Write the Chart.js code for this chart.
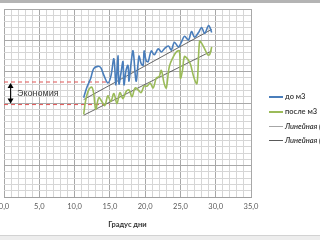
<!DOCTYPE html>
<html><head><meta charset="utf-8">
<script src="https://cdn.jsdelivr.net/npm/chart.js@4/dist/chart.umd.min.js"></script>
<style>
html,body{margin:0;padding:0;width:320px;height:240px;overflow:hidden;background:#fff;position:relative;font-family:Lato,"Liberation Sans",sans-serif;}
#wrap{position:absolute;left:-20px;top:0;width:340px;height:240px;}
#topbar{position:absolute;left:0;top:0;width:320px;height:3px;background:#b4b4b4;}
#botbar{position:absolute;left:0;top:235px;width:320px;height:5px;background:#ededed;border-top:1px solid #d2d2d2;}
.lg{position:absolute;left:269px;height:10px;font-size:7.5px;color:#333;white-space:nowrap;line-height:10px;}
.lg span.l{position:absolute;left:0;top:4px;width:14px;height:2px;}
.lg span.t{position:absolute;left:16px;top:0;}
</style></head>
<body>
<div id="wrap"><canvas id="c" width="340" height="240"></canvas></div>
<div id="topbar"></div>
<div id="botbar"></div>
<div class="lg" style="top:92px"><span class="l" style="background:#4a7ebb"></span><span class="t" style="font-weight:600">до м3</span></div>
<div class="lg" style="top:107px"><span class="l" style="background:#9bbb59"></span><span class="t" style="font-weight:600">после м3</span></div>
<div class="lg" style="top:122px"><span class="l" style="background:#a6a6a6;height:1px"></span><span class="t" style="font-style:italic;font-weight:600">Линейная (до м3)</span></div>
<div class="lg" style="top:136px"><span class="l" style="background:#595959;height:1px"></span><span class="t" style="font-style:italic;font-weight:600">Линейная (после м3)</span></div>
<script>
// Series: "до м3"
const beforeX = [11.29,11.71,12.29,12.71,13.29,13.71,14.14,14.71,15.14,15.57,15.86,16.14,16.29,16.57,16.86,17.0,17.29,17.57,17.71,18.0,18.29,18.71,19.0,19.14,19.43,19.71,19.86,20.14,20.43,20.86,21.29,21.86,22.29,22.71,23.29,23.71,24.14,24.71,25.14,25.57,26.14,26.57,27.0,27.57,28.0,28.43,29.0,29.43];
const beforeY = [31.7,34.8,37.9,41.0,41.7,41.3,38.9,36.4,38.5,44.1,35.8,45.1,36.1,39.5,43.2,35.8,40.4,42.0,37.0,42.6,46.6,37.0,42.6,45.1,42.6,42.0,46.6,43.5,43.2,46.6,45.4,47.3,46.3,47.3,48.2,46.9,49.4,47.9,49.4,51.3,50.1,52.8,51.0,52.5,54.1,52.2,54.7,52.5];
// Series: "после м3"
const afterX = [11.29,11.57,12.0,12.43,12.71,13.0,13.43,13.86,14.29,14.71,15.14,15.57,16.0,16.43,16.86,17.29,17.71,18.14,18.57,19.0,19.43,19.86,20.29,20.71,21.14,21.57,22.0,22.29,22.71,23.0,23.43,24.0,24.43,24.86,25.0,25.29,25.57,26.0,26.43,26.86,27.29,27.43,27.71,28.0,28.43,28.86,29.14,29.43];
const afterY = [26.4,30.8,34.2,35.1,33.0,28.0,31.7,30.5,29.2,32.3,30.5,33.0,29.8,33.3,31.4,33.6,34.2,32.0,34.8,34.2,33.3,35.4,35.4,36.4,34.8,37.9,38.5,40.4,36.1,34.8,41.7,44.8,46.3,46.6,37.9,40.4,44.8,44.1,42.3,38.5,36.1,37.9,49.7,49.1,47.3,45.4,45.4,47.9];
// Linear trend endpoints
const trendBeforeX = [11.29, 29.43];
const trendBeforeY = [31.1, 53.5];
const trendAfterX = [11.29, 29.43];
const trendAfterY = [26.1, 46.6];
// "Экономия" marker levels
const savingX = [0, 15.0];
const savingUpper = [36.7, 36.7];
const savingLower = [29.5, 29.5];
const savingArrowX = 0.86;
const savingLabel = "Экономия";
// Axis
const xTickLabels = ["0,0","5,0","10,0","15,0","20,0","25,0","30,0","35,0"];
const xTitle = "Градус дни";

const pts = (xs, ys) => xs.map((x, i) => ({x, y: ys[i]}));

const arrowPlugin = {
  id: 'saving',
  afterDatasetsDraw(chart) {
    const ctx = chart.ctx, xs = chart.scales.x, ys = chart.scales.y;
    const px = xs.getPixelForValue(savingArrowX);
    const y1 = ys.getPixelForValue(savingUpper[0]) + 1;
    const y2 = ys.getPixelForValue(savingLower[0]) - 1;
    ctx.save();
    ctx.strokeStyle = '#000'; ctx.fillStyle = '#000'; ctx.lineWidth = 1;
    ctx.beginPath(); ctx.moveTo(px + 0.5, y1 + 3); ctx.lineTo(px + 0.5, y2 - 3); ctx.stroke();
    ctx.beginPath(); ctx.moveTo(px + 0.5, y1); ctx.lineTo(px - 2.5, y1 + 5); ctx.lineTo(px + 3.5, y1 + 5); ctx.closePath(); ctx.fill();
    ctx.beginPath(); ctx.moveTo(px + 0.5, y2); ctx.lineTo(px - 2.5, y2 - 5); ctx.lineTo(px + 3.5, y2 - 5); ctx.closePath(); ctx.fill();
    ctx.fillStyle = '#404040';
    ctx.font = '9px "Liberation Sans", Arial, sans-serif';
    ctx.textBaseline = 'middle';
    ctx.fillText(savingLabel, px + 7, (y1 + y2) / 2);
    ctx.restore();
  }
};

new Chart(document.getElementById('c'), {
  type: 'scatter',
  data: {
    datasets: [
      {label: 'до м3', data: pts(beforeX, beforeY), showLine: true, borderColor: '#4a7ebb', borderWidth: 1.6, pointRadius: 0, tension: 0.35},
      {label: 'после м3', data: pts(afterX, afterY), showLine: true, borderColor: '#9bbb59', borderWidth: 1.6, pointRadius: 0, tension: 0.35},
      {label: 'Линейная (до м3)', data: pts(trendBeforeX, trendBeforeY), showLine: true, borderColor: '#404040', borderWidth: 0.8, pointRadius: 0},
      {label: 'Линейная (после м3)', data: pts(trendAfterX, trendAfterY), showLine: true, borderColor: '#404040', borderWidth: 0.8, pointRadius: 0},
      {label: 'upper', data: pts(savingX, savingUpper), showLine: true, borderColor: '#e05555', borderWidth: 1, borderDash: [4, 3], pointRadius: 0},
      {label: 'lower', data: pts(savingX, savingLower), showLine: true, borderColor: '#e05555', borderWidth: 1, borderDash: [4, 3], pointRadius: 0}
    ]
  },
  options: {
    responsive: false, animation: false,
    layout: {padding: {left: 24, right: 69, top: 9, bottom: 11}},
    plugins: {legend: {display: false}, tooltip: {enabled: false}},
    scales: {
      x: {
        type: 'linear', min: 0, max: 35,
        grid: {drawTicks: false, color: c => (c.tick && c.tick.value % 5 === 0) ? '#a8a8a8' : '#d6d6d6', lineWidth: 1},
        border: {color: '#a0a0a0'},
        ticks: {stepSize: 1, autoSkip: false, maxRotation: 0, padding: 5, color: '#595959',
          font: {size: 7.5, family: 'Lato, "Liberation Sans", sans-serif'},
          callback: v => (v % 5 === 0) ? xTickLabels[v / 5] : ''},
        title: {display: true, text: xTitle, color: '#333', padding: {top: 4, bottom: 0},
          font: {size: 7.5, weight: 'bold', family: 'Lato, "Liberation Sans", sans-serif'}}
      },
      y: {
        min: 0, max: 60,
        grid: {drawTicks: false, color: c => (c.tick && c.tick.value % 10 === 0) ? '#a8a8a8' : '#d6d6d6', lineWidth: 1},
        border: {display: false},
        ticks: {display: false, stepSize: 2}
      }
    }
  },
  plugins: [arrowPlugin]
});
</script>
</body></html>
